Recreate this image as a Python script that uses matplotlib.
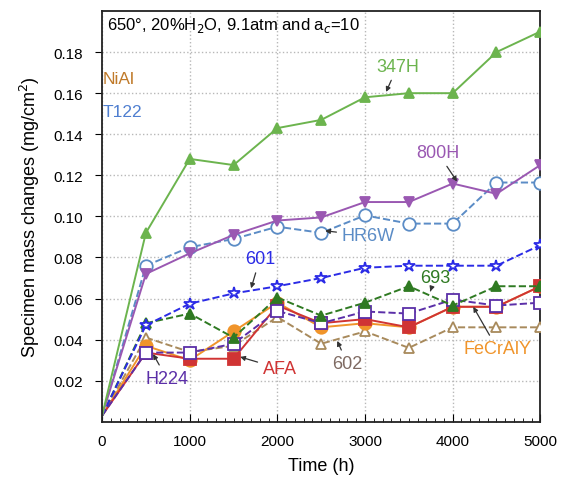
import matplotlib.pyplot as plt
from matplotlib.ticker import MultipleLocator

plt.rcParams['font.family'] = ['Liberation Sans', 'DejaVu Sans']

time_h = [0, 500, 1000, 1500, 2000, 2500, 3000, 3500, 4000, 4500, 5000]

m_347h = [0.003, 0.092, 0.128, 0.125, 0.143, 0.147, 0.158, 0.160, 0.160, 0.180, 0.190]
m_800h = [0.003, 0.072, 0.082, 0.091, 0.098, 0.0995, 0.107, 0.107, 0.116, 0.111, 0.125]
m_hr6w = [0.003, 0.076, 0.085, 0.089, 0.095, 0.092, 0.1005, 0.0965, 0.0965, 0.1165, 0.1165]
m_601 = [0.003, 0.047, 0.0575, 0.0625, 0.066, 0.070, 0.075, 0.076, 0.076, 0.076, 0.086]
m_693 = [0.003, 0.048, 0.0527, 0.041, 0.0605, 0.0517, 0.058, 0.066, 0.0566, 0.066, 0.066]
m_h224 = [0.003, 0.0337, 0.0337, 0.038, 0.054, 0.048, 0.0537, 0.0527, 0.0595, 0.0566, 0.058]
m_afa = [0.003, 0.0337, 0.0307, 0.0307, 0.0566, 0.048, 0.050, 0.046, 0.056, 0.056, 0.066]
m_fecraly = [0.003, 0.037, 0.030, 0.044, 0.058, 0.046, 0.048, 0.046, 0.056, 0.056, 0.066]
m_602 = [0.003, 0.041, 0.034, 0.037, 0.051, 0.038, 0.044, 0.036, 0.046, 0.046, 0.046]

fig = plt.figure(figsize=(5.64, 4.81), dpi=100)
ax = fig.add_axes([0.181, 0.121, 0.777, 0.854])

# series: (values, color, linestyle, marker, filled)
series = [
    (m_602, "#a88a5c", "--", "^", False),
    (m_fecraly, "#f0942a", "-", "o", True),
    (m_afa, "#d03434", "-", "s", True),
    (m_h224, "#5b2fa8", "--", "s", False),
    (m_693, "#2f7a22", "--", "^", True),
    (m_601, "#2b2be6", "--", "*", False),
    (m_hr6w, "#5b8cc6", "--", "o", False),
    (m_800h, "#9a58b2", "-", "v", True),
    (m_347h, "#6cb44e", "-", "^", True),
]

for vals, col, ls, mk, filled in series:
    ms = 9 if mk in ("o", "s", "*") else 7
    ax.plot(time_h[1:], vals[1:], color=col, linestyle=ls, linewidth=1.4,
            marker=mk, markersize=ms,
            markerfacecolor=col if filled else "white",
            markeredgecolor=col, markeredgewidth=1.3, zorder=3)
    ax.plot(time_h[:2], vals[:2], color=col, linestyle=ls, linewidth=1.4, zorder=2)

ax.set_xlim(0, 5000)
ax.set_ylim(0, 0.2)
ax.xaxis.set_major_locator(MultipleLocator(1000))
ax.xaxis.set_minor_locator(MultipleLocator(100))
ax.set_yticks([0.02, 0.04, 0.06, 0.08, 0.10, 0.12, 0.14, 0.16, 0.18])
ax.set_yticklabels(["0.02", "0.04", "0.06", "0.08", "0.10", "0.12", "0.14", "0.16", "0.18"])
ax.tick_params(axis="x", which="both", direction="in", top=False)
ax.tick_params(axis="x", which="major", length=6, labelsize=11, pad=9)
ax.tick_params(axis="x", which="minor", length=3)
ax.tick_params(axis="y", direction="out", length=5, labelsize=11, pad=9, right=False)
ax.grid(True, which="major", color="#b8b8b8", linestyle=":", linewidth=1.0)
ax.set_axisbelow(True)
for s in ax.spines.values():
    s.set_linewidth(1.3)
    s.set_color("#222222")

ax.set_xlabel("Time (h)", fontsize=13, labelpad=6)
ax.set_ylabel("Specimen mass changes (mg/cm$^2$)", fontsize=13, labelpad=8)

ax.text(57, 0.1935, "650°, 20%H$_2$O, 9.1atm and a$_c$=10", fontsize=12, va="center")
ax.text(5, 0.167, "NiAl", color="#c07a2a", fontsize=12.5, va="center")
ax.text(5, 0.151, "T122", color="#4f7fd0", fontsize=12.5, va="center")

arrow = dict(arrowstyle="-|>", color="#333333", lw=0.9, mutation_scale=7, shrinkA=2, shrinkB=0)
labels = [
    ("347H", "#6cb44e", (3370, 0.173), (3240, 0.1606)),
    ("800H", "#9a58b2", (3830, 0.131), (4050, 0.117)),
    ("HR6W", "#5b8cc6", (3040, 0.0905), (2545, 0.093)),
    ("601", "#2b2be6", (1800, 0.0793), (1700, 0.065)),
    ("693", "#2f7a22", (3800, 0.0705), (3745, 0.0635)),
    ("FeCrAlY", "#f0942a", (4510, 0.0355), (4235, 0.056)),
    ("602", "#7e6a62", (2800, 0.0282), (2683, 0.0394)),
    ("AFA", "#d03434", (2030, 0.0258), (1575, 0.0316)),
    ("H224", "#5b2fa8", (740, 0.021), (582, 0.033)),
]
for txt, col, xy_t, xy_p in labels:
    ax.annotate(txt, xy=xy_p, xytext=xy_t, color=col, fontsize=13,
                ha="center", va="center", arrowprops=arrow, zorder=5)

fig.savefig("out.png", dpi=100)
